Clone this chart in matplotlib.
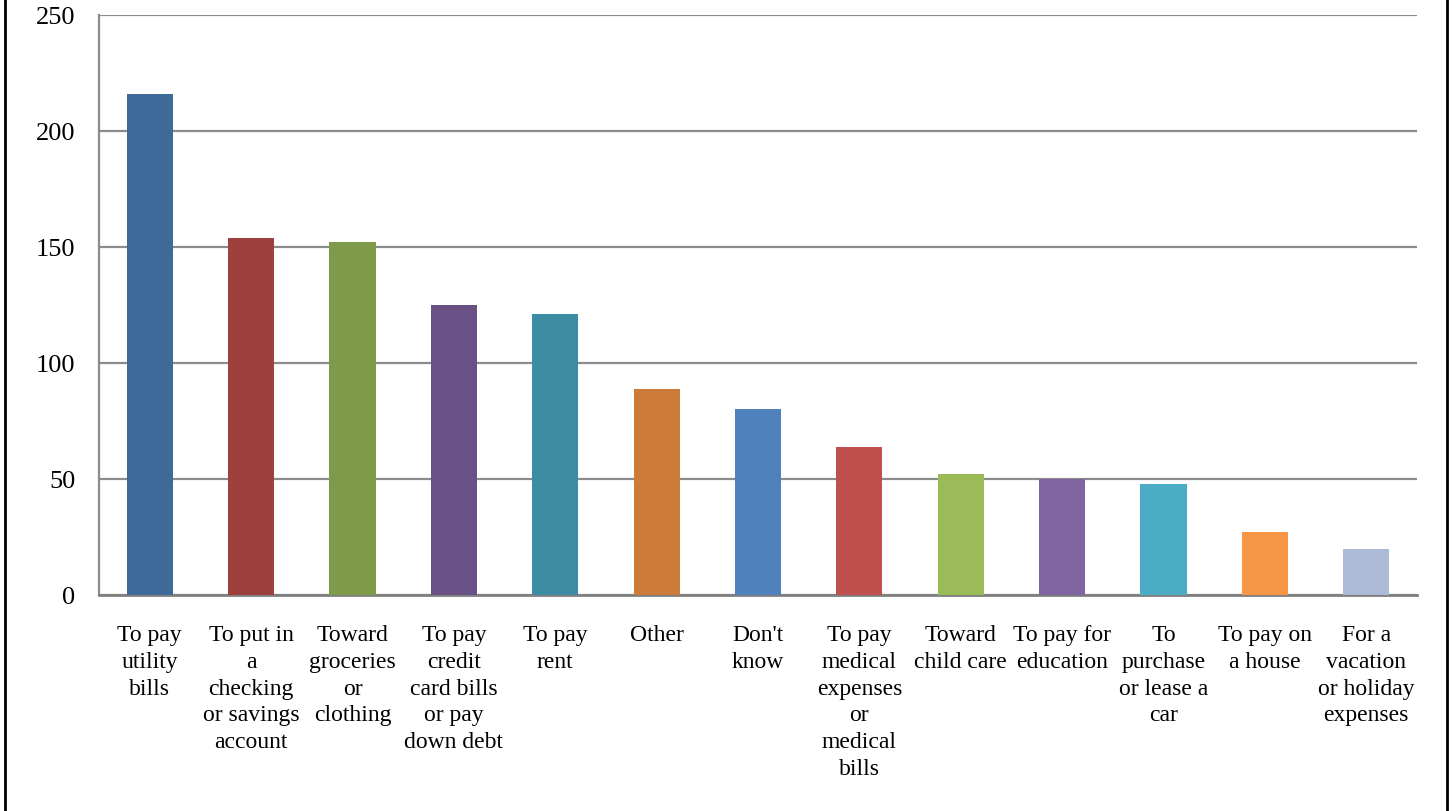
import matplotlib
matplotlib.use("Agg")
import matplotlib.pyplot as plt
from matplotlib.lines import Line2D

categories = [
    "To pay\nutility\nbills",
    "To put in\na\nchecking\nor savings\naccount",
    "Toward\ngroceries\nor\nclothing",
    "To pay\ncredit\ncard bills\nor pay\ndown debt",
    "To pay\nrent",
    "Other",
    "Don't\nknow",
    "To pay\nmedical\nexpenses\nor\nmedical\nbills",
    "Toward\nchild care",
    "To pay for\neducation",
    "To\npurchase\nor lease a\ncar",
    "To pay on\na house",
    "For a\nvacation\nor holiday\nexpenses",
]
values = [216, 154, 152, 125, 121, 89, 80, 64, 52, 50, 48, 27, 20]
colors = ["#3E6A9A", "#9E413E", "#7F9A48", "#695185", "#3C8DA3", "#CC7B38",
          "#4F81BD", "#C0504D", "#9BBB59", "#8064A2", "#4BACC6", "#F79646",
          "#AABAD7"]
yticks = [0, 50, 100, 150, 200, 250]

plt.rcParams['font.family'] = ['Liberation Serif', 'DejaVu Serif']

fig = plt.figure(figsize=(14.52, 8.12), dpi=100)
ax = fig.add_axes([99/1452, 1-596/812, (1417-99)/1452, (596-16)/812])

x = range(len(categories))
ax.bar(x, values, width=1/2.2, color=colors, zorder=3)
ax.set_xlim(-0.5, len(categories)-0.5)
ax.set_ylim(0, 250)
ax.set_yticks(yticks)
ax.set_yticklabels([str(v) for v in yticks], fontsize=19)
ax.set_xticks(list(x))
ax.set_xticklabels(categories, fontsize=17, linespacing=1.36, va='top')
ax.tick_params(axis='x', length=0, pad=21)
ax.tick_params(axis='y', length=0, pad=17)
ax.yaxis.grid(True, color="#8C8C8C", linewidth=1.6, zorder=0)
for s in ["top", "right"]:
    ax.spines[s].set_visible(False)
ax.spines["left"].set_color("#8C8C8C")
ax.spines["left"].set_linewidth(1.6)
ax.spines["bottom"].set_color("#808080")
ax.spines["bottom"].set_linewidth(2)

# figure border lines
fig.add_artist(Line2D([5/1452, 5/1452], [0, 1], transform=fig.transFigure, color="black", linewidth=2))
fig.add_artist(Line2D([1447/1452, 1447/1452], [0, 1], transform=fig.transFigure, color="black", linewidth=2))

fig.savefig("out.png", dpi=100, facecolor="white")
